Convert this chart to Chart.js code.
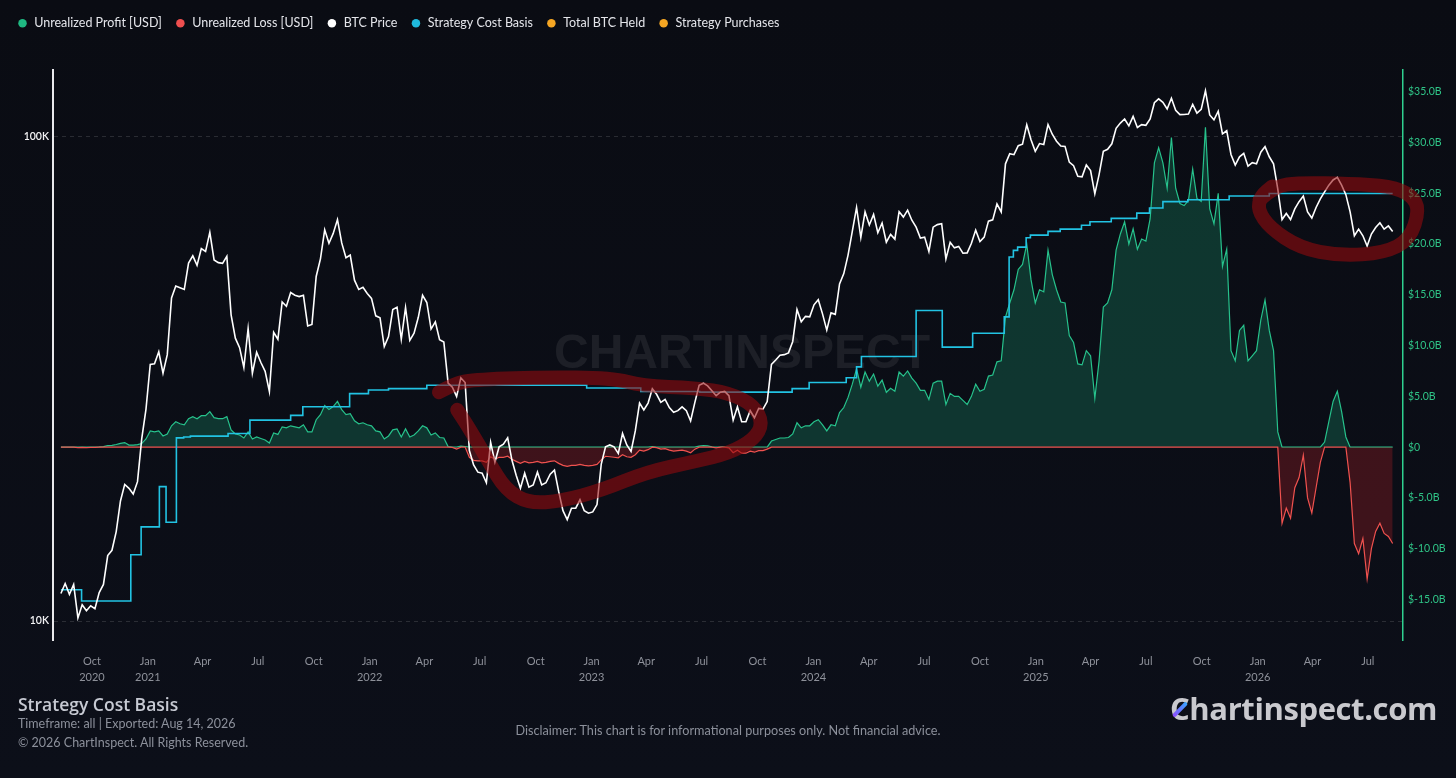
<!DOCTYPE html>
<html>
<head>
<meta charset="utf-8">
<title>Strategy Cost Basis</title>
<script src="https://cdn.jsdelivr.net/npm/chart.js@4.4.1/dist/chart.umd.min.js"></script>
<style>
  html, body { margin: 0; padding: 0; }
  body {
    width: 1456px; height: 778px; position: relative; overflow: hidden;
    background: linear-gradient(#0a0c13, #0c0f19);
    font-family: Lato, "Noto Sans", sans-serif;
  }
  #chart { position: absolute; left: 0; top: 0; }
  .txt { position: absolute; white-space: nowrap; }
  #title { left: 18px; top: 692px; font: 600 17.5px "Open Sans", sans-serif; color: #c7cad3; }
  #sub1 { left: 18px; top: 716px; font-size: 12.5px; color: #8c909b; }
  #sub2 { left: 18px; top: 735px; font-size: 12.5px; color: #8c909b; }
  #disclaimer { left: 0; width: 1456px; text-align: center; top: 723px; font-size: 12.65px; color: #8c909b; }
  #brand { right: 19px; top: 687px; font: 700 31px "Open Sans", sans-serif; color: #c9c9ce; letter-spacing: -0.4px; }
  #slash { left: 1178px; top: 700px; width: 4px; height: 19px; border-radius: 2px;
           background: linear-gradient(#37a6ff, #8f4bff); transform: rotate(45deg); }
</style>
</head>
<body>
<canvas id="chart" width="1456" height="778"></canvas>
<div class="txt" id="title">Strategy Cost Basis</div>
<div class="txt" id="sub1">Timeframe: all | Exported: Aug 14, 2026</div>
<div class="txt" id="sub2">© 2026 ChartInspect. All Rights Reserved.</div>
<div class="txt" id="disclaimer">Disclaimer: This chart is for informational purposes only. Not financial advice.</div>
<div class="txt" id="brand">Chartinspect.com</div>
<div class="txt" id="slash"></div>
<script>
// weekly samples, first one on weekStart
const weekStart = '2020-08-11';

// BTC price, USD (left, log axis)
const btcPrice = [
  11400, 11950, 11350, 11900, 10150, 10800, 10500, 10750, 10600, 11450,
  11900, 13650, 14000, 15300, 17700, 19150, 18800, 18300, 19400, 23800,
  27400, 33900, 34000, 36000, 32500, 35500, 46500, 49200, 48800, 48400,
  54900, 56800, 54300, 58800, 58000, 63500, 55700, 55000, 54800, 56700,
  42900, 38400, 36700, 33400, 40200, 32500, 35900, 34200, 32800, 29800,
  39500, 38200, 45600, 44700, 47700, 47100, 46800, 47100, 40700, 41000,
  51500, 56000, 64300, 60300, 63200, 67500, 60400, 56300, 57000, 50600,
  48400, 48900, 47500, 46400, 42700, 42300, 36900, 38700, 44000, 44500,
  38200, 44400, 38000, 39300, 42400, 47100, 45500, 40100, 41500, 38100,
  37700, 31000, 30400, 29100, 31800, 31100, 22500, 21000, 20300, 20200,
  19300, 23400, 21300, 22900, 23200, 23900, 21500, 20000, 18800, 20200,
  18900, 19100, 20300, 19100, 19300, 20100, 20500, 18500, 16900, 16200,
  17100, 17100, 17800, 16900, 16700, 16800, 17400, 21100, 22900, 23100,
  22900, 22200, 24400, 23100, 22400, 24700, 28200, 27300, 28200, 30200,
  29400, 28300, 28700, 27600, 27000, 27200, 27700, 27200, 25900, 28300,
  30700, 31000, 30600, 29900, 29200, 29700, 29800, 29200, 26000, 27700,
  25800, 25800, 27200, 26300, 27500, 27400, 28400, 33900, 34600, 35400,
  35500, 35800, 37800, 44000, 41500, 42600, 42500, 45000, 46100, 43100,
  39900, 43300, 43000, 49700, 52200, 57000, 63800, 71500, 62000, 70000,
  65800, 69200, 63400, 66400, 60600, 62900, 61500, 70100, 68300, 70600,
  67300, 65100, 61800, 62100, 58000, 65100, 65900, 66200, 56000, 60600,
  59000, 59400, 57500, 57600, 60300, 64200, 60800, 62100, 67000, 67400,
  72700, 70000, 88000, 92300, 91900, 95900, 96600, 106000, 98700, 93400,
  96900, 96500, 106100, 101300, 98000, 95800, 95600, 88700, 87200, 82900,
  82700, 87500, 85200, 76300, 83600, 93400, 94300, 96800, 104200, 106800,
  108900, 105400, 110300, 104600, 106000, 105700, 108900, 117700, 119900, 117900,
  114200, 120200, 113500, 111200, 111300, 111500, 116800, 112000, 114000, 124500,
  111000, 108500, 113000, 101500, 103000, 92000, 87500, 91000, 92500, 87000,
  88500, 88000, 93000, 95500, 91000, 88000, 78000, 67500, 69500, 67500,
  71000, 73500, 75500, 70000, 68000, 71500, 74500, 77000, 79500, 81500,
  82500, 79500, 76000, 70000, 62500, 64500, 62500, 59500, 63000, 65000,
  66500, 64500, 65500, 63800
];

// unrealized profit / loss, billions USD (right axis)
const unrealizedPnl = [
  0, 0.01, 0, 0.01, -0.05, -0.02, -0.04, -0.03, -0.03, 0.02,
  0.05, 0.15, 0.18, 0.26, 0.37, 0.45, 0.2, 0.2, 0.25, 0.35,
  0.8, 1.6, 1.5, 1.6, 1.1, 1.3, 2.1, 2.5, 2.3, 2.2,
  2.8, 3.0, 2.8, 3.1, 3.1, 3.5, 2.9, 2.8, 2.8, 3.0,
  1.7, 1.3, 1.2, 0.9, 1.5, 0.8, 1.0, 0.85, 0.7, 0.4,
  1.4, 1.25, 2.0, 1.9, 2.1, 2.0, 1.9, 2.2, 1.5, 1.5,
  2.7, 3.2, 4.1, 3.7, 4.0, 4.5, 3.7, 3.2, 3.3, 2.6,
  2.3, 2.4, 2.2, 2.1, 1.6, 1.5, 0.8, 1.1, 1.7, 1.8,
  1.0, 1.8, 1.0, 1.2, 1.6, 2.1, 1.9, 1.2, 1.4, 0.95,
  0.9, 0.05, -0.02, -0.2, 0.1, 0.05, -1.0, -1.3, -1.35, -1.35,
  -1.5, -0.95, -1.2, -1.0, -1.0, -0.9, -1.2, -1.4, -1.6, -1.4,
  -1.55, -1.5, -1.4, -1.55, -1.5, -1.4, -1.35, -1.6, -1.8, -1.9,
  -1.8, -1.8, -1.7, -1.8, -1.85, -1.8, -1.7, -1.25, -0.9, -0.95,
  -1.0, -1.05, -0.75, -0.95, -1.0, -0.75, -0.3, -0.4, -0.25, 0.05,
  -0.05, -0.2, -0.15, -0.3, -0.4, -0.35, -0.3, -0.4, -0.55, -0.2,
  0.1, 0.15, 0.12, 0.03, -0.07, 0, 0.02, -0.07, -0.55, -0.3,
  -0.6, -0.6, -0.4, -0.5, -0.35, -0.35, -0.2, 0.6, 0.75, 0.9,
  0.9, 0.95, 1.3, 2.4, 1.9, 2.1, 2.1, 2.5, 2.7, 2.2,
  1.6, 2.2, 2.1, 3.4, 3.9, 4.9, 6.2, 7.7, 5.9, 7.4,
  6.5, 7.2, 6.0, 6.6, 5.4, 5.8, 5.5, 7.4, 7.0, 7.5,
  6.8, 6.3, 5.6, 5.6, 4.7, 6.3, 6.5, 6.5, 4.2, 5.3,
  5.0, 5.0, 4.6, 4.2, 5.0, 6.2, 5.5, 5.7, 7.0, 7.1,
  8.4, 8.5, 12.8, 14.2, 15.5, 17.5, 18.0, 20.0, 16.5, 14.2,
  15.5, 15.3, 19.4, 17.0, 15.5, 14.3, 14.2, 11.0, 10.3, 8.2,
  8.1, 9.5, 9.0, 4.8, 8.5, 13.8, 14.2, 15.5, 19.4, 21.0,
  22.2, 20.0, 21.5, 19.5, 20.5, 20.3, 22.5, 28.0, 29.5, 28.0,
  25.5, 30.5, 25.5, 24.0, 23.8, 24.3, 27.4, 24.5, 24.2, 31.5,
  23.5, 22.0, 25.0, 17.8, 19.5, 9.5, 8.5, 11.5, 12.0, 8.5,
  9.0, 9.5, 12.5, 14.5, 11.5, 9.5, 1.5, -7.5, -6.0, -7.0,
  -4.0, -3.0, -0.8, -5.0, -6.5, -4.0, -1.5, 0.5, 2.5, 4.5,
  5.5, 3.5, 1.0, -3.5, -9.5, -10.5, -9.0, -13.0, -10.0, -8.3,
  -7.5, -8.5, -8.8, -9.5
];

// strategy average cost per BTC, value holds from each date on
const costBasisDates = [
  '2020-08-11', '2020-09-14', '2020-12-04', '2020-12-21', '2021-01-20', '2021-01-31',
  '2021-02-17', '2021-03-01', '2021-03-12', '2021-05-13', '2021-06-18', '2021-08-24',
  '2021-09-13', '2021-11-29', '2021-12-30', '2022-02-01', '2022-04-05', '2022-12-24',
  '2023-03-23', '2023-06-28', '2023-11-27', '2023-12-25', '2024-02-24', '2024-03-12',
  '2024-03-20', '2024-06-18', '2024-07-31', '2024-09-19', '2024-11-10', '2024-11-18',
  '2024-11-25', '2024-12-02', '2024-12-16', '2024-12-23', '2025-01-21', '2025-02-10',
  '2025-03-17', '2025-03-31', '2025-05-05', '2025-06-16', '2025-07-07', '2025-07-29',
  '2025-09-08', '2025-11-15', '2026-01-20', '2026-08-11'
];
const costBasisValues = [
  11600, 11000, 13700, 15650, 18950, 16000,
  23900, 24000, 24100, 24400, 26000, 26600,
  27700, 29500, 30000, 30200, 30700, 30300,
  29800, 29700, 30200, 31100, 31800, 33500,
  35200, 43800, 36800, 39300, 42500, 56500,
  58300, 59200, 61900, 62700, 63800, 64500,
  65700, 66800, 67900, 69600, 71300, 73500,
  74200, 75500, 76400, 76400
];

// tick labels
const quarterTicks = [
  '2020-10-01', '2021-01-01', '2021-04-01', '2021-07-01', '2021-10-01',
  '2022-01-01', '2022-04-01', '2022-07-01', '2022-10-01',
  '2023-01-01', '2023-04-01', '2023-07-01', '2023-10-01',
  '2024-01-01', '2024-04-01', '2024-07-01', '2024-10-01',
  '2025-01-01', '2025-04-01', '2025-07-01', '2025-10-01',
  '2026-01-01', '2026-04-01', '2026-07-01'
];
const priceTicks = [10000, 100000];
const pnlTicks = [-15, -10, -5, 0, 5, 10, 15, 20, 25, 30, 35];
const monthNames = ['Jan', 'Feb', 'Mar', 'Apr', 'May', 'Jun', 'Jul', 'Aug', 'Sep', 'Oct', 'Nov', 'Dec'];

// hand drawn marker loops, [date, BTC price]
const loop2022 = [
  ['2022-04-25', 29700], ['2022-05-20', 30900], ['2022-06-18', 31500], ['2022-10-07', 31900],
  ['2023-02-04', 31800], ['2023-03-25', 30600], ['2023-06-22', 30300], ['2023-08-15', 29600],
  ['2023-09-25', 27900], ['2023-10-10', 25600], ['2023-09-25', 23700], ['2023-08-15', 22200],
  ['2023-06-22', 21400], ['2023-04-01', 20300], ['2023-01-19', 18650], ['2022-11-13', 17700],
  ['2022-09-20', 17500], ['2022-08-13', 18650], ['2022-07-16', 21300], ['2022-06-13', 25100],
  ['2022-05-25', 27300]
];
const loop2026 = [
  ['2026-01-04', 74100], ['2026-01-29', 79200], ['2026-03-11', 80400], ['2026-06-01', 80000],
  ['2026-08-06', 79200], ['2026-09-11', 75900], ['2026-09-24', 70700], ['2026-09-08', 61300],
  ['2026-07-28', 57600], ['2026-05-16', 56800], ['2026-03-11', 59000], ['2026-01-21', 64900],
  ['2026-01-01', 70700], ['2026-01-06', 75500], ['2026-01-25', 79000]
];

const DAY = 864e5;
const t0 = Date.parse(weekStart);
const weekTime = btcPrice.map((_, i) => t0 + i * 7 * DAY);

const pricePoints = btcPrice.map((v, i) => ({ x: weekTime[i], y: v }));
const profitPoints = unrealizedPnl.map((v, i) => ({ x: weekTime[i], y: Math.max(v, 0) }));
const lossPoints = unrealizedPnl.map((v, i) => ({ x: weekTime[i], y: Math.min(v, 0) }));
const costPoints = costBasisDates.map((d, i) => ({ x: Date.parse(d), y: costBasisValues[i] }));

const watermark = {
  id: 'watermark',
  beforeDatasetsDraw(chart) {
    const { ctx, chartArea: a } = chart;
    ctx.save();
    ctx.font = 'bold 48px "Liberation Sans"';
    ctx.fillStyle = 'rgba(255,255,255,0.075)';
    ctx.textAlign = 'center';
    ctx.textBaseline = 'middle';
    ctx.fillText('CHARTINSPECT', (a.left + a.right) / 2 + 14, (a.top + a.bottom) / 2);
    ctx.restore();
  }
};

const handDrawn = {
  id: 'handDrawn',
  afterDatasetsDraw(chart) {
    const { ctx, scales } = chart;
    ctx.save();
    ctx.strokeStyle = 'rgba(150,10,14,0.58)';
    ctx.lineWidth = 14;
    ctx.lineCap = 'round';
    ctx.lineJoin = 'round';
    [loop2022, loop2026].forEach(loop => {
      const pts = loop.map(([d, p]) => [scales.x.getPixelForValue(Date.parse(d)), scales.price.getPixelForValue(p)]);
      ctx.beginPath();
      ctx.moveTo(pts[0][0], pts[0][1]);
      for (let i = 1; i < pts.length - 1; i++) {
        const mx = (pts[i][0] + pts[i + 1][0]) / 2;
        const my = (pts[i][1] + pts[i + 1][1]) / 2;
        ctx.quadraticCurveTo(pts[i][0], pts[i][1], mx, my);
      }
      const last = pts[pts.length - 1];
      ctx.lineTo(last[0], last[1]);
      ctx.stroke();
    });
    ctx.restore();
  }
};

// fixed legend block height, leaves room under the legend
const legendGap = {
  id: 'legendGap',
  beforeLayout(chart) {
    const legend = chart.legend;
    if (!legend || legend._gapPatched) return;
    const fit = legend.fit;
    legend.fit = function () {
      fit.call(this);
      this.height = 66;
    };
    legend._gapPatched = true;
  }
};

Chart.defaults.font.family = 'Lato, "Noto Sans", sans-serif';

new Chart(document.getElementById('chart'), {
  type: 'line',
  data: {
    datasets: [
      {
        label: 'Unrealized Profit [USD]',
        data: profitPoints,
        yAxisID: 'pnl',
        borderColor: '#27c28c',
        backgroundColor: 'rgba(22,128,94,0.36)',
        legendColor: '#1fb982',
        borderWidth: 1.2,
        fill: 'origin',
        order: 3
      },
      {
        label: 'Unrealized Loss [USD]',
        data: lossPoints,
        yAxisID: 'pnl',
        borderColor: '#f0524f',
        backgroundColor: 'rgba(160,30,36,0.34)',
        legendColor: '#ef4f4f',
        borderWidth: 1.2,
        fill: 'origin',
        order: 2
      },
      {
        label: 'BTC Price',
        data: pricePoints,
        yAxisID: 'price',
        borderColor: '#ffffff',
        legendColor: '#ffffff',
        borderWidth: 1.6,
        order: 0
      },
      {
        label: 'Strategy Cost Basis',
        data: costPoints,
        yAxisID: 'price',
        borderColor: '#22c3e3',
        legendColor: '#1fb9dc',
        borderWidth: 1.6,
        stepped: true,
        order: 1
      },
      { label: 'Total BTC Held', data: [], yAxisID: 'price', borderColor: '#f5a623', legendColor: '#f5a623' },
      { label: 'Strategy Purchases', data: [], yAxisID: 'price', borderColor: '#f5a623', legendColor: '#f5a623' }
    ]
  },
  options: {
    responsive: false,
    animation: false,
    events: [],
    elements: { point: { radius: 0 }, line: { tension: 0 } },
    layout: { padding: { left: 4, right: 0, top: 4, bottom: 88 } },
    plugins: {
      tooltip: { enabled: false },
      legend: {
        position: 'top',
        align: 'start',
        labels: {
          color: '#e4e5ea',
          font: { size: 12.5 },
          usePointStyle: true,
          pointStyle: 'circle',
          boxWidth: 11,
          boxHeight: 6,
          padding: 13,
          generateLabels(chart) {
            return chart.data.datasets.map((ds, i) => ({
              text: ds.label,
              fillStyle: ds.legendColor,
              strokeStyle: ds.legendColor,
              fontColor: '#e4e5ea',
              lineWidth: 0,
              pointStyle: 'circle',
              hidden: false,
              datasetIndex: i
            }));
          }
        }
      }
    },
    scales: {
      x: {
        type: 'linear',
        min: Date.UTC(2020, 6, 29),
        max: Date.UTC(2026, 7, 28),
        grid: { display: false, drawTicks: false },
        border: { display: false },
        afterBuildTicks(scale) {
          scale.ticks = quarterTicks.map(d => ({ value: Date.parse(d) }));
        },
        afterFit(scale) { scale.height = 50; },
        ticks: {
          color: '#8e919a',
          font: { size: 11, lineHeight: 1.4 },
          padding: 14,
          maxRotation: 0,
          autoSkip: false,
          callback(value, index) {
            const d = new Date(value);
            const m = monthNames[d.getUTCMonth()];
            return (d.getUTCMonth() === 0 || index === 0) ? [m, String(d.getUTCFullYear())] : m;
          }
        }
      },
      price: {
        type: 'logarithmic',
        position: 'left',
        min: 9136,
        max: 137500,
        afterBuildTicks(scale) {
          scale.ticks = priceTicks.map(v => ({ value: v }));
        },
        afterFit(scale) { scale.width = 49; },
        grid: { color: 'rgba(255,255,255,0.13)', lineWidth: 1, drawTicks: false },
        border: { display: true, color: '#e9e9ec', width: 2, dash: [4, 4] },
        ticks: {
          color: '#f2f2f4',
          font: { size: 10.5, weight: '600' },
          padding: 4,
          callback: v => (v / 1000) + 'K'
        }
      },
      pnl: {
        type: 'linear',
        position: 'right',
        min: -19.0,
        max: 37.15,
        afterBuildTicks(scale) {
          scale.ticks = pnlTicks.map(v => ({ value: v }));
        },
        afterFit(scale) { scale.width = 53; },
        grid: { display: false, drawTicks: false },
        border: { display: true, color: '#2fd08f', width: 1.5 },
        ticks: {
          color: '#2fc487',
          font: { size: 10.5 },
          padding: 5,
          callback: v => v === 0 ? '$0' : '$' + v.toFixed(1) + 'B'
        }
      }
    }
  },
  plugins: [legendGap, watermark, handDrawn]
});
</script>
</body>
</html>
